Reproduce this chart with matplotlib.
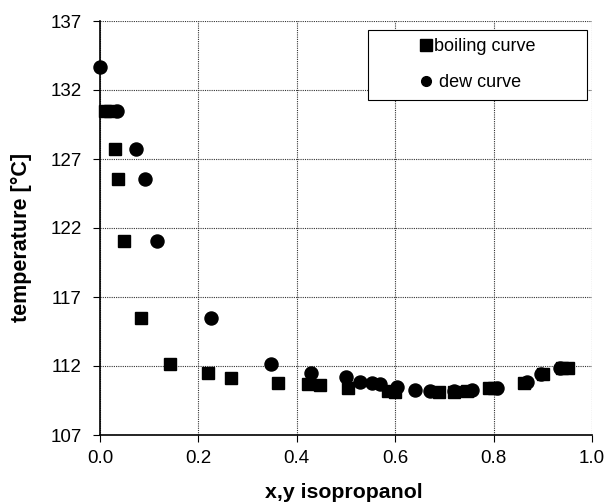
import numpy as np
import matplotlib.pyplot as plt
from matplotlib.patches import Rectangle

plt.rcParams['font.family'] = ['Liberation Sans', 'DejaVu Sans']

# boiling curve (liquid composition x)
x_boil = [0.010, 0.020, 0.031, 0.037, 0.049, 0.083, 0.143, 0.220, 0.267,
          0.362, 0.423, 0.447, 0.505, 0.585, 0.600, 0.690, 0.720, 0.745, 0.790,
          0.800, 0.862, 0.900, 0.940, 0.952]
t_boil = [130.5, 130.5, 127.7, 125.55, 121.08, 115.48, 112.14, 111.49, 111.1,
          110.77, 110.7, 110.6, 110.38, 110.2, 110.14, 110.14, 110.14, 110.2, 110.38,
          110.38, 110.8, 111.4, 111.83, 111.83]

# dew curve (vapour composition y)
y_dew = [0.0, 0.034, 0.074, 0.091, 0.116, 0.225, 0.348, 0.428, 0.499, 0.529,
         0.553, 0.570, 0.604, 0.641, 0.671, 0.719, 0.756, 0.806, 0.867, 0.897,
         0.935]
t_dew = [133.7, 130.5, 127.7, 125.55, 121.08, 115.48, 112.14, 111.49, 111.18, 110.85,
         110.75, 110.7, 110.45, 110.28, 110.21, 110.21, 110.25, 110.38, 110.82, 111.42,
         111.83]

fig = plt.figure(figsize=(6.11, 5.04), dpi=100)
ax = fig.add_axes([100 / 611, 69 / 504, 492 / 611, 414 / 504])

ax.plot(x_boil, t_boil, linestyle='none', marker='s', markersize=8.2,
        color='black', label='boiling curve', clip_on=False, zorder=3)
ax.plot(y_dew, t_dew, linestyle='none', marker='o', markersize=9.4,
        color='black', label=' dew curve', clip_on=False, zorder=3)

ax.set_xlim(0, 1.0)
ax.set_ylim(107, 137)
ax.set_xticks(np.arange(0, 1.01, 0.2))
ax.set_yticks(np.arange(107, 138, 5))
ax.xaxis.set_major_formatter(plt.FormatStrFormatter('%.1f'))

ax.grid(True, linestyle=(0, (1, 1)), color='#333333', linewidth=0.8)
ax.spines['top'].set_visible(False)
ax.spines['right'].set_visible(False)
ax.spines['left'].set_linewidth(1.2)
ax.spines['bottom'].set_linewidth(1.2)
ax.tick_params(direction='out', length=5, width=0.8, labelsize=13.5)
ax.tick_params(axis='y', pad=8)
ax.tick_params(axis='x', pad=6)

ax.set_xlabel('x,y isopropanol', fontsize=15.3, fontweight='bold')
ax.set_ylabel('temperature [°C]', fontsize=15.5, fontweight='bold')
ax.xaxis.set_label_coords(0.496, -0.116)
ax.yaxis.set_label_coords(-0.138, 0.477)

# legend box drawn by hand, legend contents placed inside it
ax.add_patch(Rectangle(((368 - 100) / 492, (435 - 100) / 414), 219 / 492, 70 / 414,
                       transform=ax.transAxes, facecolor='white', edgecolor='black',
                       linewidth=0.8, zorder=4, clip_on=False))
leg = ax.legend(loc='upper left', bbox_to_anchor=((419 - 100) / 492, (435 - 38) / 414),
                fontsize=13, frameon=False, handletextpad=0.1, borderpad=0,
                labelspacing=1.05, handlelength=0.75, borderaxespad=0)
leg.set_zorder(5)
leg.legend_handles[0].set_markersize(8.5)
leg.legend_handles[1].set_markersize(7.0)

fig.savefig('out.png', dpi=100)
